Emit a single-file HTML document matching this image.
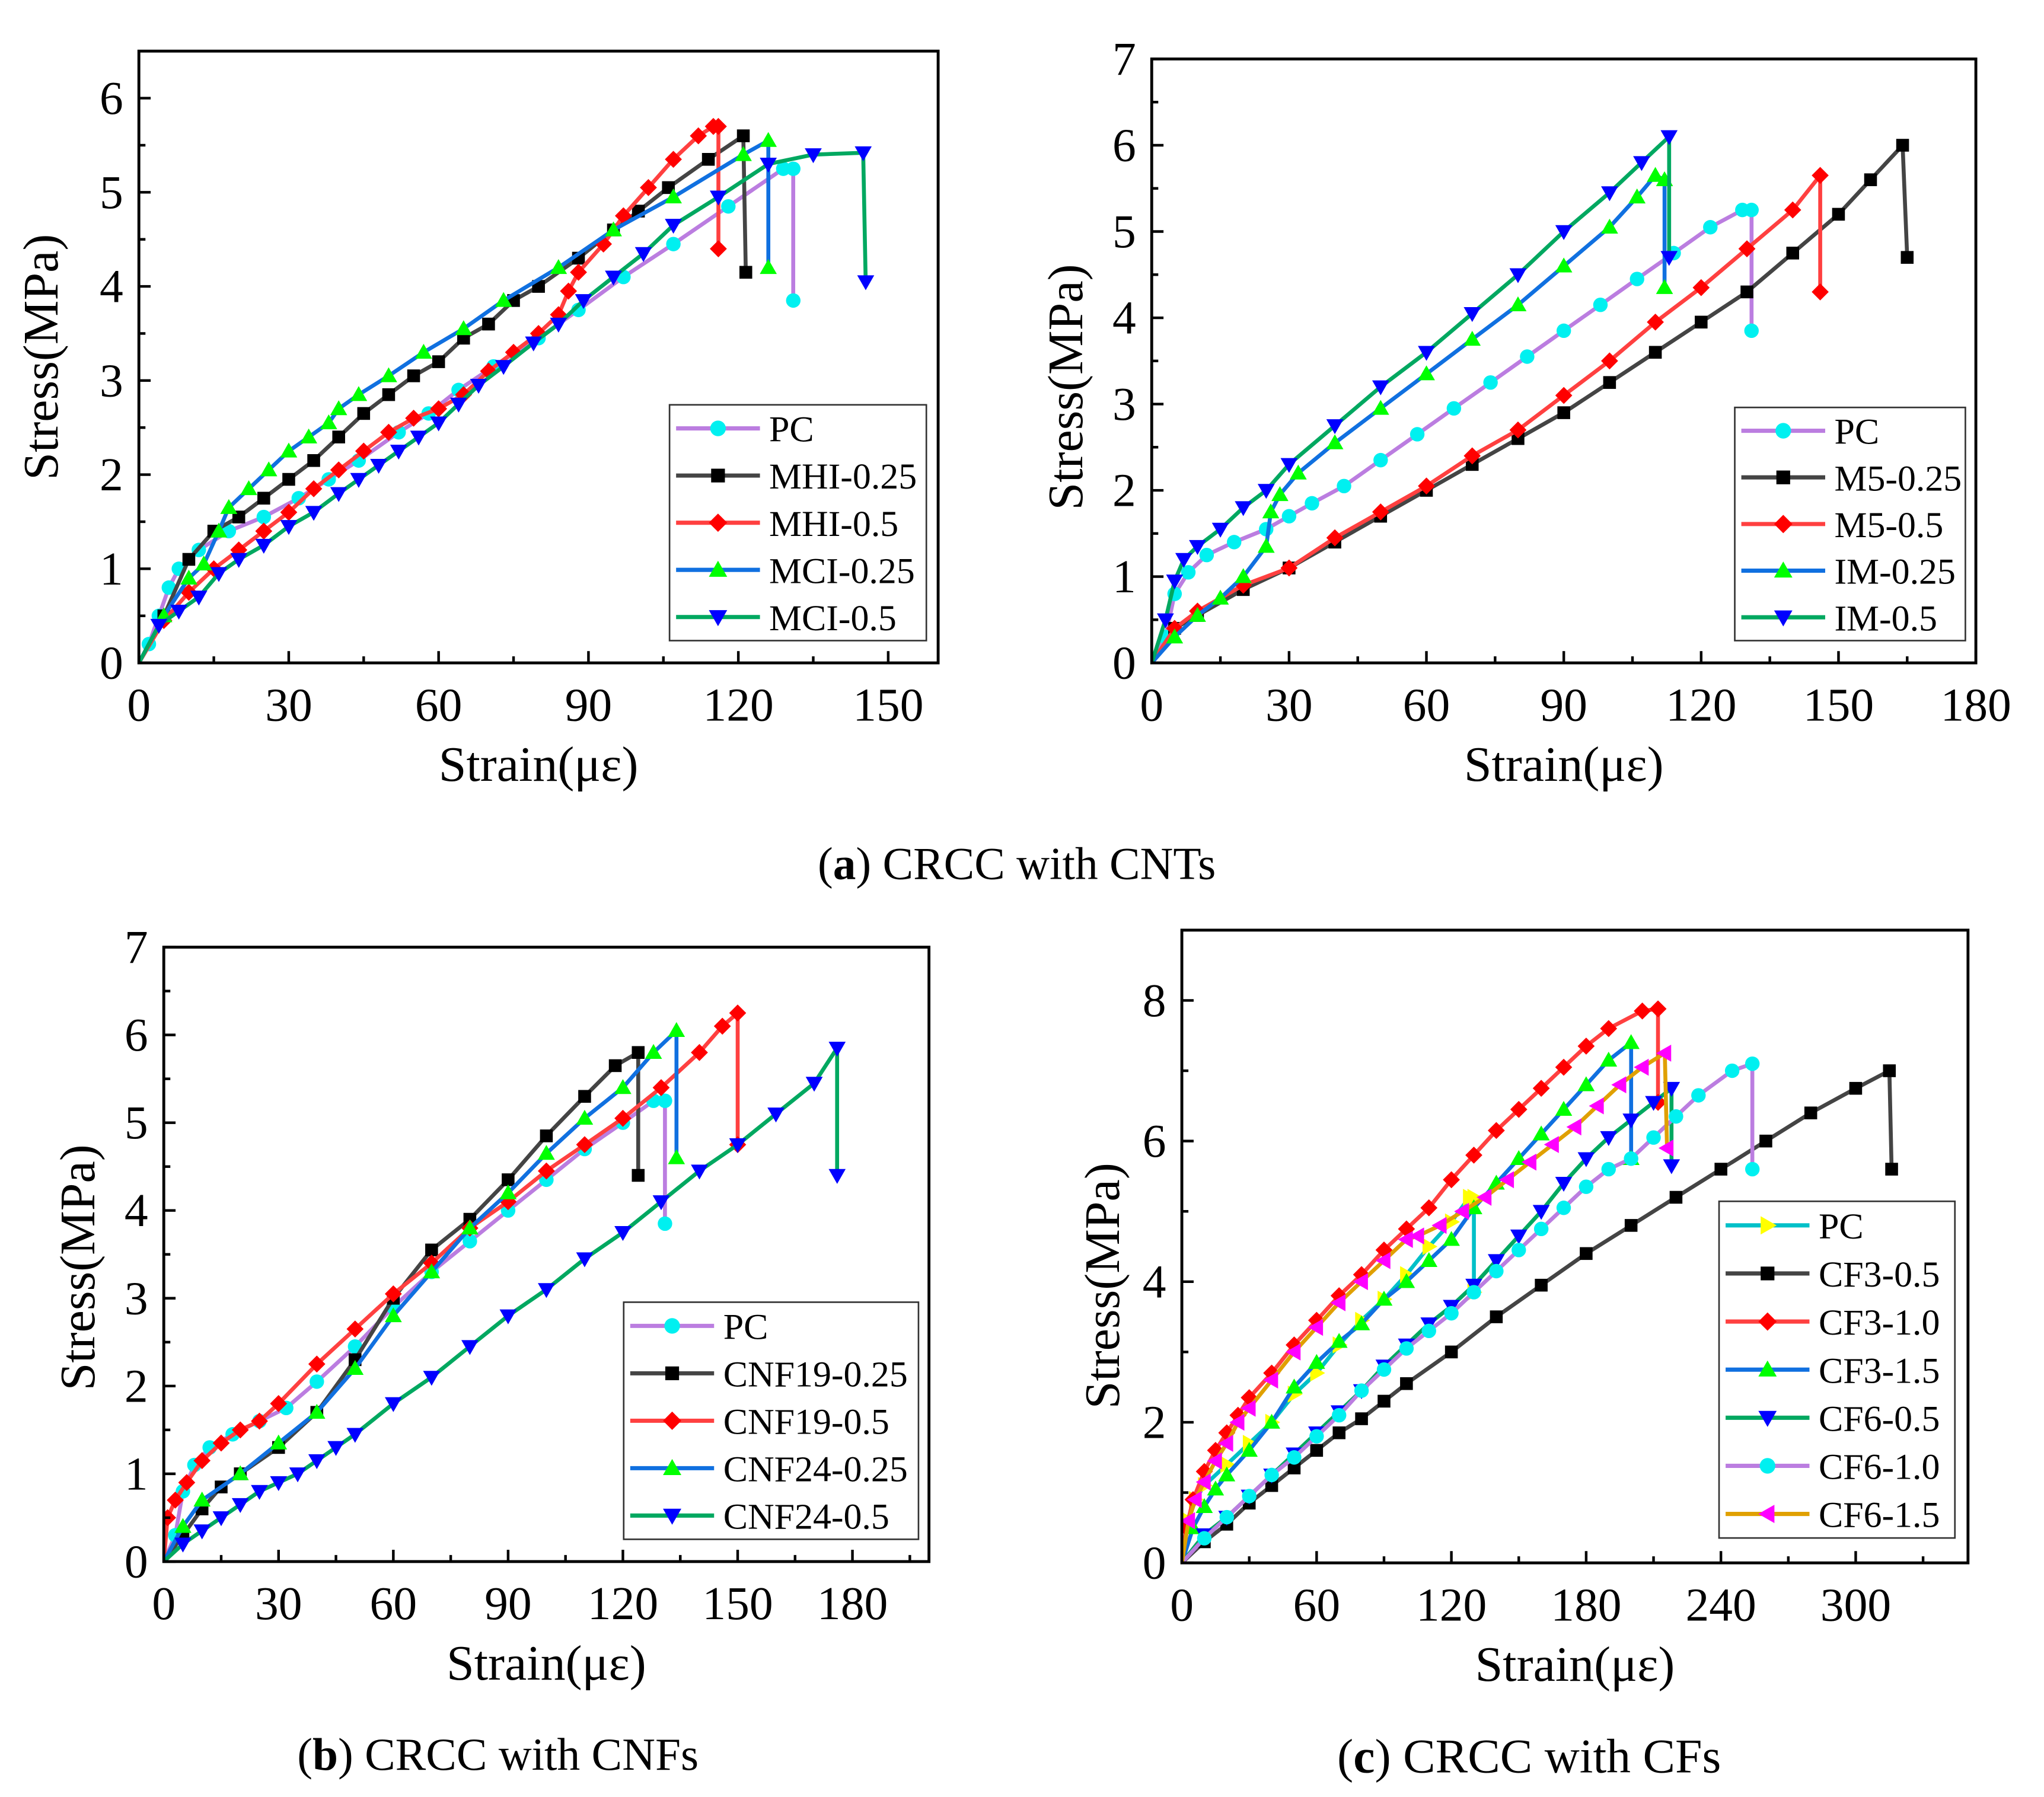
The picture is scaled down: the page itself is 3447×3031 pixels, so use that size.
<!DOCTYPE html>
<html><head><meta charset="utf-8"><style>
html,body{margin:0;padding:0;background:#fff;}
svg{display:block;font-family:"Liberation Serif","Times New Roman","DejaVu Serif",serif;}
svg text{font-family:"Liberation Serif","Times New Roman","DejaVu Serif",serif;fill:#000;}
</style></head><body>
<svg id="fig" width="3447" height="3031" viewBox="0 0 1560 1371.7" xmlns="http://www.w3.org/2000/svg" font-family="Liberation Serif, Times New Roman, DejaVu Serif, serif">
<rect width="1560" height="1372" fill="#fff"/>
<text x="776" y="671" font-size="35" text-anchor="middle" font-family="Liberation Serif, serif">(<tspan font-weight="bold">a</tspan>) CRCC with CNTs</text>
<text x="380" y="1351" font-size="35" text-anchor="middle" font-family="Liberation Serif, serif">(<tspan font-weight="bold">b</tspan>) CRCC with CNFs</text>
<text x="1167" y="1353" font-size="37" text-anchor="middle" font-family="Liberation Serif, serif">(<tspan font-weight="bold">c</tspan>) CRCC with CFs</text>
</svg>
<script>
// ---------- Panel A1 (MHI / MCI) ----------
const a1_PC=[[0,0],[2,0.2],[4,0.5],[6,0.8],[8,1.0],[12,1.2],[18,1.4],[25,1.55],[32,1.75],[38,1.95],[44,2.15],[52,2.45],[58,2.65],[64,2.9],[71,3.15],[80,3.45],[88,3.75],[97,4.1],[107,4.45],[118,4.85],[129,5.25],[131,5.25],[131,3.85]];
const a1_MHI025=[[0,0],[5,0.5],[10,1.1],[15,1.4],[20,1.55],[25,1.75],[30,1.95],[35,2.15],[40,2.4],[45,2.65],[50,2.85],[55,3.05],[60,3.2],[65,3.45],[70,3.6],[75,3.85],[80,4.0],[88,4.3],[95,4.6],[100,4.8],[106,5.05],[114,5.35],[121,5.6],[121.5,4.15]];
const a1_MHI05=[[0,0],[5,0.45],[10,0.75],[15,1.0],[20,1.2],[25,1.4],[30,1.6],[35,1.85],[40,2.05],[45,2.25],[50,2.45],[55,2.6],[60,2.7],[65,2.85],[70,3.1],[75,3.3],[80,3.5],[84,3.7],[86,3.95],[88,4.15],[93,4.45],[97,4.75],[102,5.05],[107,5.35],[112,5.6],[115,5.7],[116,5.7],[116,4.4]];
const a1_MCI025=[[0,0],[5,0.5],[10,0.9],[13,1.05],[16,1.4],[18,1.65],[22,1.85],[26,2.05],[30,2.25],[34,2.4],[38,2.55],[40,2.7],[44,2.85],[50,3.05],[57,3.3],[65,3.55],[73,3.85],[84,4.2],[95,4.6],[107,4.95],[121,5.4],[126,5.55],[126,4.2]];
const a1_MCI05=[[0,0],[4,0.4],[8,0.55],[12,0.7],[16,0.95],[20,1.1],[25,1.25],[30,1.45],[35,1.6],[40,1.8],[44,1.95],[48,2.1],[52,2.25],[56,2.4],[60,2.55],[64,2.75],[68,2.95],[73,3.15],[79,3.4],[84,3.6],[89,3.85],[95,4.1],[101,4.35],[107,4.65],[116,4.95],[126,5.3],[135,5.4],[145,5.42],[145.5,4.05]];
const a1_xticks=[0,30,60,90,120,150];
const a1_yticks=[0,1,2,3,4,5,6];
const a1_labels=["PC","MHI-0.25","MHI-0.5","MCI-0.25","MCI-0.5"];
// ---------- Panel A2 (M5 / IM) ----------
const a2_PC=[[0,0],[3,0.3],[5,0.8],[8,1.05],[12,1.25],[18,1.4],[25,1.55],[30,1.7],[35,1.85],[42,2.05],[50,2.35],[58,2.65],[66,2.95],[74,3.25],[82,3.55],[90,3.85],[98,4.15],[106,4.45],[114,4.75],[122,5.05],[129,5.25],[131,5.25],[131,3.85]];
const a2_M5025=[[0,0],[5,0.4],[10,0.55],[20,0.85],[30,1.1],[40,1.4],[50,1.7],[60,2.0],[70,2.3],[80,2.6],[90,2.9],[100,3.25],[110,3.6],[120,3.95],[130,4.3],[140,4.75],[150,5.2],[157,5.6],[164,6.0],[165,4.7]];
const a2_M505=[[0,0],[5,0.4],[10,0.6],[20,0.9],[30,1.1],[40,1.45],[50,1.75],[60,2.05],[70,2.4],[80,2.7],[90,3.1],[100,3.5],[110,3.95],[120,4.35],[130,4.8],[140,5.25],[146,5.65],[146,4.3]];
const a2_IM025=[[0,0],[5,0.3],[10,0.55],[15,0.75],[20,1.0],[25,1.35],[26,1.75],[28,1.95],[32,2.2],[40,2.55],[50,2.95],[60,3.35],[70,3.75],[80,4.15],[90,4.6],[100,5.05],[106,5.4],[110,5.65],[112,5.6],[112,4.35]];
const a2_IM05=[[0,0],[3,0.5],[5,0.95],[7,1.2],[10,1.35],[15,1.55],[20,1.8],[25,2.0],[30,2.3],[40,2.75],[50,3.2],[60,3.6],[70,4.05],[80,4.5],[90,5.0],[100,5.45],[107,5.8],[113,6.1],[113,4.7]];
const a2_xticks=[0,30,60,90,120,150,180];
const a2_yticks=[0,1,2,3,4,5,6,7];
const a2_labels=["PC","M5-0.25","M5-0.5","IM-0.25","IM-0.5"];
// ---------- Panel B (CNF) ----------
const b_PC=[[0,0],[3,0.3],[5,0.8],[8,1.1],[12,1.3],[18,1.45],[25,1.6],[32,1.75],[40,2.05],[50,2.45],[60,2.9],[70,3.3],[80,3.65],[90,4.0],[100,4.35],[110,4.7],[120,5.0],[128,5.25],[131,5.25],[131,3.85]];
const b_CNF19025=[[0,0],[5,0.3],[10,0.6],[15,0.85],[20,1.0],[30,1.3],[40,1.7],[50,2.3],[60,3.0],[70,3.55],[80,3.9],[90,4.35],[100,4.85],[110,5.3],[118,5.65],[124,5.8],[124,4.4]];
const b_CNF1905=[[0,0],[1,0.5],[3,0.7],[6,0.9],[10,1.15],[15,1.35],[20,1.5],[25,1.6],[30,1.8],[40,2.25],[50,2.65],[60,3.05],[70,3.4],[80,3.8],[90,4.1],[100,4.45],[110,4.75],[120,5.05],[130,5.4],[140,5.8],[146,6.1],[150,6.25],[150,4.75]];
const b_CNF24025=[[0,0],[5,0.4],[10,0.7],[20,1.0],[30,1.35],[40,1.7],[50,2.2],[60,2.8],[70,3.3],[80,3.8],[90,4.2],[100,4.65],[110,5.05],[120,5.4],[128,5.8],[134,6.05],[134,4.6]];
const b_CNF2405=[[0,0],[5,0.2],[10,0.35],[15,0.5],[20,0.65],[25,0.8],[30,0.9],[35,1.0],[40,1.15],[45,1.3],[50,1.45],[60,1.8],[70,2.1],[80,2.45],[90,2.8],[100,3.1],[110,3.45],[120,3.75],[130,4.1],[140,4.45],[150,4.75],[160,5.1],[170,5.45],[176,5.85],[176,4.4]];
const b_xticks=[0,30,60,90,120,150,180];
const b_yticks=[0,1,2,3,4,5,6,7];
const b_labels=["PC","CNF19-0.25","CNF19-0.5","CNF24-0.25","CNF24-0.5"];
// ---------- Panel C (CF) ----------
const c_PC=[[0,0],[3,0.6],[6,0.9],[10,1.1],[20,1.4],[30,1.7],[40,2.0],[50,2.4],[60,2.7],[70,3.1],[80,3.45],[90,3.75],[100,4.1],[110,4.5],[120,4.85],[128,5.2],[130,5.2],[130,3.85]];
const c_CF305=[[0,0],[10,0.3],[20,0.55],[30,0.85],[40,1.1],[50,1.35],[60,1.6],[70,1.85],[80,2.05],[90,2.3],[100,2.55],[120,3.0],[140,3.5],[160,3.95],[180,4.4],[200,4.8],[220,5.2],[240,5.6],[260,6.0],[280,6.4],[300,6.75],[315,7.0],[316,5.6]];
const c_CF310=[[0,0],[2,0.5],[5,0.9],[10,1.3],[15,1.6],[20,1.85],[25,2.1],[30,2.35],[40,2.7],[50,3.1],[60,3.45],[70,3.8],[80,4.1],[90,4.45],[100,4.75],[110,5.05],[120,5.45],[130,5.8],[140,6.15],[150,6.45],[160,6.75],[170,7.05],[180,7.35],[190,7.6],[205,7.85],[212,7.88],[212,6.55]];
const c_CF315=[[0,0],[5,0.5],[10,0.8],[15,1.05],[20,1.25],[30,1.6],[40,2.0],[50,2.5],[60,2.85],[70,3.15],[80,3.4],[90,3.75],[100,4.0],[110,4.3],[120,4.6],[130,5.05],[140,5.4],[150,5.75],[160,6.1],[170,6.45],[180,6.8],[190,7.15],[200,7.4],[200,5.75]];
const c_CF605=[[0,0],[10,0.4],[20,0.65],[30,0.95],[40,1.25],[50,1.55],[60,1.85],[70,2.15],[80,2.45],[90,2.8],[100,3.1],[110,3.4],[120,3.65],[130,3.95],[140,4.3],[150,4.65],[160,5.0],[170,5.4],[180,5.75],[190,6.05],[200,6.3],[210,6.55],[218,6.75],[218,5.65]];
const c_CF610=[[0,0],[10,0.35],[20,0.65],[30,0.95],[40,1.25],[50,1.5],[60,1.8],[70,2.1],[80,2.45],[90,2.75],[100,3.05],[110,3.3],[120,3.55],[130,3.85],[140,4.15],[150,4.45],[160,4.75],[170,5.05],[180,5.35],[190,5.6],[200,5.75],[210,6.05],[220,6.35],[230,6.65],[245,7.0],[254,7.1],[254,5.6]];
const c_CF615=[[0,0],[3,0.6],[6,0.9],[10,1.15],[15,1.45],[20,1.7],[25,2.0],[30,2.2],[40,2.6],[50,3.0],[60,3.35],[70,3.7],[80,4.0],[90,4.3],[100,4.6],[105,4.65],[115,4.8],[125,5.0],[135,5.2],[145,5.45],[155,5.7],[165,5.95],[175,6.2],[185,6.5],[195,6.8],[205,7.05],[215,7.25],[216,5.9]];
const c_xticks=[0,60,120,180,240,300];
const c_yticks=[0,2,4,6,8];
const c_labels=["PC","CF3-0.5","CF3-1.0","CF3-1.5","CF6-0.5","CF6-1.0","CF6-1.5"];

const NS="http://www.w3.org/2000/svg";
const FONT="Liberation Serif, Times New Roman, DejaVu Serif, serif";
const svg=document.getElementById('fig');
function mk(tag,attrs,parent){const e=document.createElementNS(NS,tag);for(const k in attrs)e.setAttribute(k,attrs[k]);if(tag==='text')e.setAttribute('font-family',FONT);(parent||svg).appendChild(e);return e;}
function marker(g,type,x,y,col,s){
  let e;
  if(type==='circle'){e=mk('circle',{cx:x,cy:y,r:s*0.85,fill:col},g);}
  else if(type==='square'){e=mk('rect',{x:x-s*0.75,y:y-s*0.75,width:s*1.5,height:s*1.5,fill:col},g);}
  else if(type==='diamond'){e=mk('polygon',{points:`${x},${y-s} ${x+s},${y} ${x},${y+s} ${x-s},${y}`,fill:col},g);}
  else if(type==='up'){e=mk('polygon',{points:`${x},${y-s} ${x+s},${y+s*0.75} ${x-s},${y+s*0.75}`,fill:col},g);}
  else if(type==='down'){e=mk('polygon',{points:`${x},${y+s} ${x+s},${y-s*0.75} ${x-s},${y-s*0.75}`,fill:col},g);}
  else if(type==='right'){e=mk('polygon',{points:`${x+s},${y} ${x-s*0.75},${y-s} ${x-s*0.75},${y+s}`,fill:col},g);}
  else if(type==='left'){e=mk('polygon',{points:`${x-s},${y} ${x+s*0.75},${y-s} ${x+s*0.75},${y+s}`,fill:col},g);}
  
  
}
function panel(cfg){
  const g=mk('g',{});
  
  
  const L=cfg.box[0],T=cfg.box[1],R=cfg.box[2],B=cfg.box[3];
  const sx=v=>L+(v-cfg.xmin)/(cfg.xmax-cfg.xmin)*(R-L);
  const sy=v=>B-(v)/(cfg.ymax)*(B-T);
  const clip='clip-'+cfg.name;
  const cp=mk('clipPath',{id:clip},g);mk('rect',{x:L,y:T,width:R-L,height:B-T},cp);
  const sg=mk('g',{'clip-path':`url(#${clip})`},g);
  cfg.series.forEach(s=>{
    const sgg=mk('g',{},sg);
    
    
    const pts=s.data.map(p=>sx(p[0]).toFixed(1)+','+sy(p[1]).toFixed(1)).join(' ');
    const pl=mk('polyline',{points:pts,fill:'none',stroke:s.line,'stroke-width':3,'stroke-linejoin':'round'},sgg);
    
    
    s.data.forEach((p,i)=>{ if(i>0) marker(sgg,s.m,sx(p[0]),sy(p[1]),s.mc,6.5); });
  });
  const bx=mk('rect',{x:L,y:T,width:R-L,height:B-T,fill:'none',stroke:'#000','stroke-width':2.2},g);
  
  
  const xstep=cfg.xticks[1]-cfg.xticks[0];
  for(let v=cfg.xmin;v<=cfg.xmax+1e-6;v+=xstep/2){
    const major=Math.abs((v/xstep)-Math.round(v/xstep))<1e-6;
    mk('line',{x1:sx(v),x2:sx(v),y1:B,y2:B-(major?9:5),stroke:'#000','stroke-width':2},g);
  }
  cfg.xticks.forEach(v=>{
    const t=mk('text',{x:sx(v),y:B+44,'font-size':36,'text-anchor':'middle'},g);
    t.textContent=v;
    
    
  });
  const ystep=cfg.yticks[1]-cfg.yticks[0];
  for(let v=0;v<=cfg.ymax+1e-6;v+=ystep/2){
    const major=Math.abs((v/ystep)-Math.round(v/ystep))<1e-6;
    mk('line',{x1:L,x2:L+(major?9:5),y1:sy(v),y2:sy(v),stroke:'#000','stroke-width':2},g);
  }
  cfg.yticks.forEach(v=>{
    const t=mk('text',{x:L-12,y:sy(v)+12,'font-size':36,'text-anchor':'end'},g);
    t.textContent=v;
    
    
  });
  const xt=mk('text',{x:(L+R)/2,y:B+90,'font-size':38,'text-anchor':'middle'},g);
  xt.textContent='Strain(\u03bc\u03b5)';
  
  
  const yt=mk('text',{x:0,y:0,'font-size':38,'text-anchor':'middle',transform:`translate(${cfg.ytx},${(T+B)/2+cfg.yty}) rotate(-90)`},g);
  yt.textContent='Stress(MPa)';
  
  
  const lg=mk('g',{},g);
  
  
  const lb=cfg.leg;
  mk('rect',{x:lb[0],y:lb[1],width:lb[2]-lb[0],height:lb[3]-lb[1],fill:'#fff',stroke:'#333','stroke-width':1.2},lg);
  const n=cfg.series.length,h=(lb[3]-lb[1])/n;
  cfg.series.forEach((s,i)=>{
    const y=lb[1]+h*(i+0.5);
    const e=mk('g',{},lg);
    
    
    mk('line',{x1:lb[0]+5,x2:lb[0]+69,y1:y,y2:y,stroke:s.line,'stroke-width':3.2},e);
    marker(e,s.m,lb[0]+37,y,s.mc,7);
    const t=mk('text',{x:lb[0]+76,y:y+10,'font-size':28},e);
    t.textContent=s.label;
  });
}
const VI='#bb7de0',CY='#00f0f0',GR='#444444',BK='#000',RD='#ff4040',RR='#ff0000',BL='#1070e0',GN='#00ff00',DG='#00a860',DB='#0000ff';
panel({name:'panel-a-left',box:[106,39,716,506],xmin:0,xmax:160,ymax:6.5,xticks:a1_xticks,yticks:a1_yticks,ytx:44,yty:0,leg:[511,309,707,489],
 series:[{label:a1_labels[0],data:a1_PC,line:VI,m:'circle',mc:CY},{label:a1_labels[1],data:a1_MHI025,line:GR,m:'square',mc:BK},{label:a1_labels[2],data:a1_MHI05,line:RD,m:'diamond',mc:RR},{label:a1_labels[3],data:a1_MCI025,line:BL,m:'up',mc:GN},{label:a1_labels[4],data:a1_MCI05,line:DG,m:'down',mc:DB}]});
panel({name:'panel-a-right',box:[879,45,1508,506],xmin:0,xmax:180,ymax:7,xticks:a2_xticks,yticks:a2_yticks,ytx:826,yty:20,leg:[1324,311,1500,489],
 series:[{label:a2_labels[0],data:a2_PC,line:VI,m:'circle',mc:CY},{label:a2_labels[1],data:a2_M5025,line:GR,m:'square',mc:BK},{label:a2_labels[2],data:a2_M505,line:RD,m:'diamond',mc:RR},{label:a2_labels[3],data:a2_IM025,line:BL,m:'up',mc:GN},{label:a2_labels[4],data:a2_IM05,line:DG,m:'down',mc:DB}]});
panel({name:'panel-b',box:[125,723,709,1192],xmin:0,xmax:200,ymax:7,xticks:b_xticks,yticks:b_yticks,ytx:72,yty:10,leg:[476,994,701,1175],
 series:[{label:b_labels[0],data:b_PC,line:VI,m:'circle',mc:CY},{label:b_labels[1],data:b_CNF19025,line:GR,m:'square',mc:BK},{label:b_labels[2],data:b_CNF1905,line:RD,m:'diamond',mc:RR},{label:b_labels[3],data:b_CNF24025,line:BL,m:'up',mc:GN},{label:b_labels[4],data:b_CNF2405,line:DG,m:'down',mc:DB}]});
panel({name:'panel-c',box:[902,710,1502,1193],xmin:0,xmax:350,ymax:9,xticks:c_xticks,yticks:c_yticks,ytx:854,yty:30,leg:[1312,917,1492,1174],
 series:[{label:c_labels[0],data:c_PC,line:'#00c0c8',m:'right',mc:'#ffff00'},{label:c_labels[1],data:c_CF305,line:GR,m:'square',mc:BK},{label:c_labels[2],data:c_CF310,line:RD,m:'diamond',mc:RR},{label:c_labels[3],data:c_CF315,line:BL,m:'up',mc:GN},{label:c_labels[4],data:c_CF605,line:DG,m:'down',mc:DB},{label:c_labels[5],data:c_CF610,line:VI,m:'circle',mc:CY},{label:c_labels[6],data:c_CF615,line:'#e0a000',m:'left',mc:'#ff00ff'}]});
</script>
</body></html>
